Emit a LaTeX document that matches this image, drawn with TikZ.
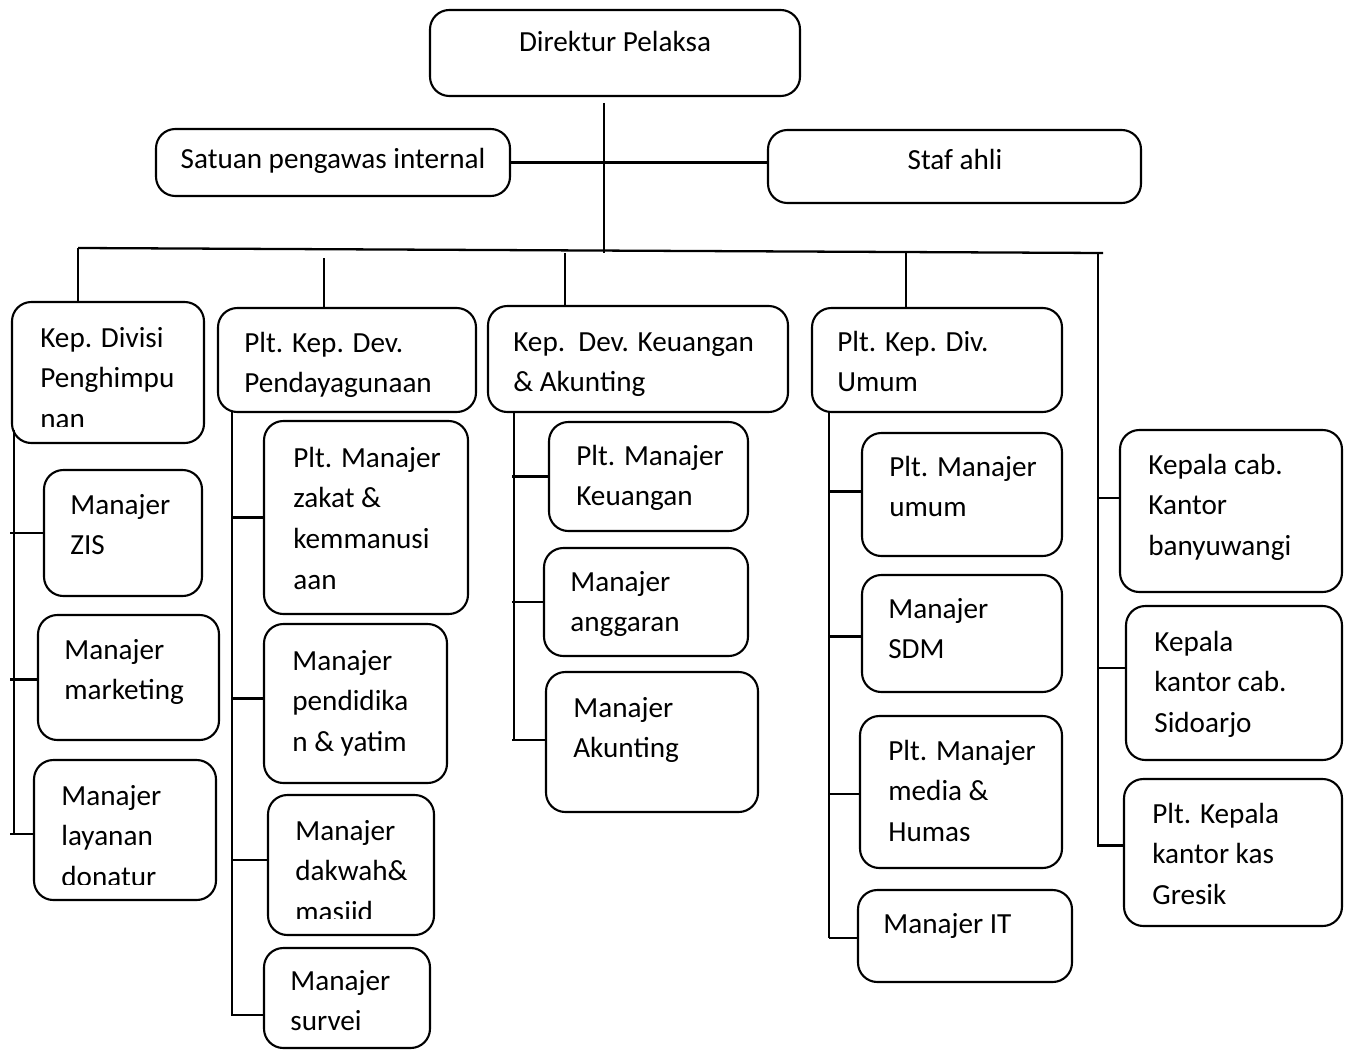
\documentclass[tikz,border=0pt]{standalone}
\usepackage{fontspec}
\setmainfont{Carlito}
\usetikzlibrary{positioning,fit,calc}

\tikzset{
  unitbox/.style={draw,rounded corners=11pt,line width=1.2pt,inner sep=0pt},
  unittext/.style={anchor=base west,inner sep=0pt,text width=8cm,align=flush left,
    font=\fontsize{16.6}{23.25}\selectfont},
  headtext/.style={anchor=base,inner sep=0pt,font=\fontsize{16.6}{23.25}\selectfont},
  link/.style={line width=1.3pt}
}

\begin{document}
\begin{tikzpicture}[x=0.02cm,y=-0.02cm]
\useasboundingbox (0,0) rectangle (1349,1051);

\node[unitbox,fit={(430,10)(800,96)}] (dir) {};
\node[headtext] (dir-t) at (615,52) {Direktur Pelaksa};
\node[unitbox,fit={(156,129)(510,196)}] (spi) {};
\node[headtext] (spi-t) at (333,169) {Satuan pengawas internal};
\node[unitbox,fit={(768,130)(1141,203)}] (staf) {};
\node[headtext] (staf-t) at (955,170) {Staf ahli};

\node[unitbox,fit={(12,302)(204,443)}] (kdp) {};
\begin{scope}
\clip (12,302) rectangle (204,426);
\node[unittext] (kdp-t) at (40,347) {Kep. Divisi\\Penghimpu\\nan};
\end{scope}
\node[unitbox,fit={(218,308)(476,412)}] (kpd) {};
\node[unittext] (kpd-t) at (244,352) {Plt. Kep. Dev.\\Pendayagunaan};
\node[unitbox,fit={(488,306)(788,412)}] (kku) {};
\node[unittext] (kku-t) at (513,351) {Kep.\ \ Dev. Keuangan\\\& Akunting};
\node[unitbox,fit={(812,308)(1062,412)}] (kum) {};
\node[unittext] (kum-t) at (837,351) {Plt. Kep. Div.\\Umum};

\node[unitbox,fit={(44,470)(202,596)}] (mzis) {};
\node[unittext] (mzis-t) at (70,514) {Manajer\\ZIS};
\node[unitbox,fit={(38,615)(219,740)}] (mmkt) {};
\node[unittext] (mmkt-t) at (64,659) {Manajer\\marketing};
\node[unitbox,fit={(34,760)(216,900)}] (mlay) {};
\begin{scope}
\clip (34,760) rectangle (216,884);
\node[unittext] (mlay-t) at (61,805) {Manajer\\layanan\\donatur};
\end{scope}

\node[unitbox,fit={(264,421)(468,614)}] (mzak) {};
\node[unittext] (mzak-t) at (293,467) {Plt. Manajer\\zakat \&\\kemmanusi\\aan};
\node[unitbox,fit={(264,624)(447,783)}] (mpdk) {};
\node[unittext] (mpdk-t) at (292,670) {Manajer\\pendidika\\n \& yatim};
\node[unitbox,fit={(268,795)(434,935)}] (mdkw) {};
\begin{scope}
\clip (268,795) rectangle (434,918);
\node[unittext] (mdkw-t) at (295,840) {Manajer\\dakwah\&\\masjid};
\end{scope}
\node[unitbox,fit={(264,948)(430,1048)}] (msrv) {};
\node[unittext] (msrv-t) at (290,990) {Manajer\\survei};

\node[unitbox,fit={(549,422)(748,531)}] (mkeu) {};
\node[unittext] (mkeu-t) at (576,465) {Plt. Manajer\\Keuangan};
\node[unitbox,fit={(544,548)(748,656)}] (mang) {};
\node[unittext] (mang-t) at (570,591) {Manajer\\anggaran};
\node[unitbox,fit={(546,672)(758,812)}] (makt) {};
\node[unittext] (makt-t) at (573,717) {Manajer\\Akunting};

\node[unitbox,fit={(862,433)(1062,556)}] (mumm) {};
\node[unittext] (mumm-t) at (889,476) {Plt. Manajer\\umum};
\node[unitbox,fit={(862,575)(1062,692)}] (msdm) {};
\node[unittext] (msdm-t) at (888,618) {Manajer\\SDM};
\node[unitbox,fit={(860,716)(1062,868)}] (mmed) {};
\node[unittext] (mmed-t) at (888,760) {Plt. Manajer\\media \&\\Humas};
\node[unitbox,fit={(858,890)(1072,982)}] (mit) {};
\node[unittext] (mit-t) at (883,933) {Manajer IT};

\node[unitbox,fit={(1120,430)(1342,592)}] (kbwi) {};
\node[unittext] (kbwi-t) at (1148,474) {Kepala cab.\\Kantor\\banyuwangi};
\node[unitbox,fit={(1126,606)(1342,760)}] (ksda) {};
\node[unittext] (ksda-t) at (1154,651) {Kepala\\kantor cab.\\Sidoarjo};
\node[unitbox,fit={(1124,779)(1342,926)}] (kgrs) {};
\node[unittext] (kgrs-t) at (1152,823) {Plt. Kepala\\kantor kas\\Gresik};

\coordinate (stem) at (604,103);
\coordinate (busL) at (78,248);
\coordinate (busR) at (1103,253);
\coordinate (d2) at (324,258);
\coordinate (d3) at (565,253);
\coordinate (d4) at (906,253);
\coordinate (d5) at (1098,253);
\coordinate (c1) at (14,430);
\coordinate (e1) at (10,430);
\coordinate (c2) at (232,412);
\coordinate (c3) at (514,412);
\coordinate (e3) at (512,412);
\coordinate (c4) at (829,412);

\draw[link] (stem) -- (stem |- busR);
\draw[link] (spi.east) -- (spi.east -| staf.west);
\draw[link] (busL) -- (busR);
\draw[link] (busL) -- (busL |- kdp.north);
\draw[link] (d2) -- (d2 |- kpd.north);
\draw[link] (d3) -- (d3 |- kku.north);
\draw[link] (d4) -- (d4 |- kum.north);

\path ($(mlay.west)+(0,4)$) coordinate (t1);
\draw[link] (c1) -- (c1 |- t1);
\foreach \b/\o in {mzis/0,mmkt/2,mlay/4}{
  \path ($(\b.west)+(0,\o)$) coordinate (t);
  \draw[link] (t) -- (t -| e1);
}

\path ($(msrv.west)+(0,17)$) coordinate (t2);
\draw[link] (c2) |- (t2);
\foreach \b/\o in {mzak/0,mpdk/-5,mdkw/-5}{
  \path ($(\b.west)+(0,\o)$) coordinate (t);
  \draw[link] (t) -- (t -| c2);
}

\path ($(makt.west)+(0,-2)$) coordinate (t3);
\draw[link] (c3) -- (c3 |- t3);
\foreach \b/\o in {mkeu/0,mang/0,makt/-2}{
  \path ($(\b.west)+(0,\o)$) coordinate (t);
  \draw[link] (t) -- (t -| e3);
}

\path ($(mit.west)+(0,2)$) coordinate (t4);
\draw[link] (c4) -- (c4 |- t4);
\foreach \b/\o in {mumm/-3,msdm/3,mmed/2,mit/2}{
  \path ($(\b.west)+(0,\o)$) coordinate (t);
  \draw[link] (t) -- (t -| c4);
}

\path ($(kgrs.west)+(0,-7)$) coordinate (t5);
\draw[link] (d5) |- (t5);
\foreach \b/\o in {kbwi/-13,ksda/-15}{
  \path ($(\b.west)+(0,\o)$) coordinate (t);
  \draw[link] (t) -- (t -| d5);
}
\end{tikzpicture}
\end{document}
